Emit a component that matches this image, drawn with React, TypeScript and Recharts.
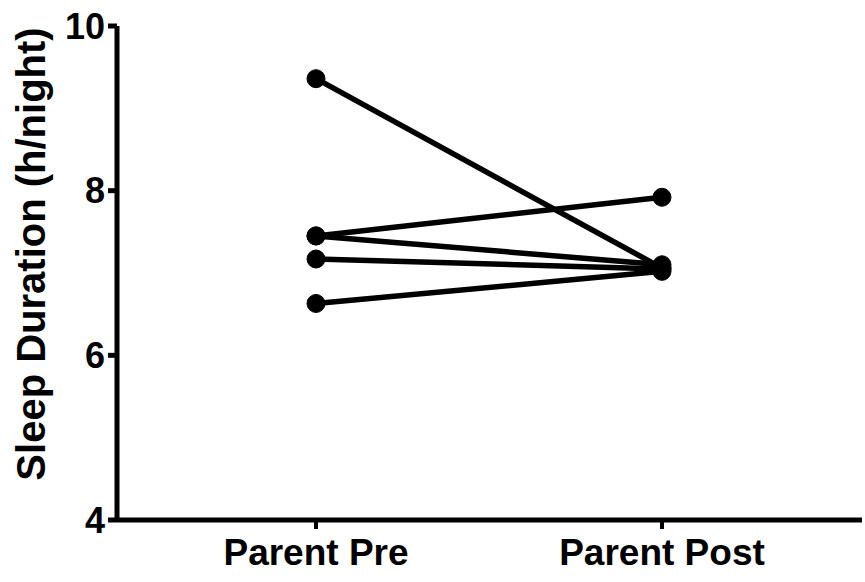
import { LineChart, Line, XAxis, YAxis } from 'recharts';

const conditions = ['Parent Pre', 'Parent Post'];
const subjectA = [9.36, 7.06];
const subjectB = [7.45, 7.92];
const subjectC = [7.45, 7.1];
const subjectD = [7.17, 7.05];
const subjectE = [6.63, 7.02];
const yTicks = [4, 6, 8, 10];

const subjects = [subjectA, subjectB, subjectC, subjectD, subjectE];

const data = conditions.map((c, i) => {
    const row: Record<string, string | number> = { condition: c };
    subjects.forEach((s, j) => {
        row['s' + j] = s[i];
    });
    return row;
});

const font = '"Liberation Sans", Arial, sans-serif';

function YLabel(props: any) {
    const vb = props.viewBox || { x: 0, y: 0, width: 117, height: 493 };
    const cx = vb.x + 45;
    const cy = vb.y + vb.height / 2 - 19;
    return (
        <text
            x={cx}
            y={cy}
            transform={`rotate(-90 ${cx} ${cy})`}
            textAnchor="middle"
            fontFamily={font}
            fontWeight="bold"
            fontSize={40}
            fill="#000"
        >
            Sleep Duration (h/night)
        </text>
    );
}

export default function App() {
    return (
        <div style={styles.wrap}>
            <LineChart
                width={865}
                height={582}
                data={data}
                margin={{ top: 26, right: 3, bottom: 0, left: 0 }}
            >
                <XAxis
                    dataKey="condition"
                    type="category"
                    padding={{ left: 199, right: 200 }}
                    axisLine={{ stroke: '#000', strokeWidth: 5 }}
                    tickLine={{ stroke: '#000', strokeWidth: 4 }}
                    tickSize={9}
                    tickMargin={10}
                    height={62}
                    tick={{ fill: '#000', fontSize: 37, fontWeight: 'bold', fontFamily: font }}
                />
                <YAxis
                    domain={[4, 10]}
                    ticks={yTicks}
                    width={117}
                    axisLine={{ stroke: '#000', strokeWidth: 5 }}
                    tickLine={{ stroke: '#000', strokeWidth: 5 }}
                    tickSize={9}
                    tickMargin={3}
                    tick={{ fill: '#000', fontSize: 36, fontWeight: 'bold', fontFamily: font }}
                    label={<YLabel />}
                />
                {subjects.map((_, j) => (
                    <Line
                        key={j}
                        dataKey={'s' + j}
                        type="linear"
                        stroke="#000"
                        strokeWidth={5.5}
                        dot={{ r: 9, fill: '#000', stroke: '#000', strokeWidth: 1 }}
                        activeDot={false}
                        isAnimationActive={false}
                    />
                ))}
            </LineChart>
        </div>
    );
}

const styles: Record<string, React.CSSProperties> = {
    wrap: {
        position: 'absolute',
        left: 0,
        top: 0,
        width: 865,
        height: 582,
        background: '#fff',
    },
};
